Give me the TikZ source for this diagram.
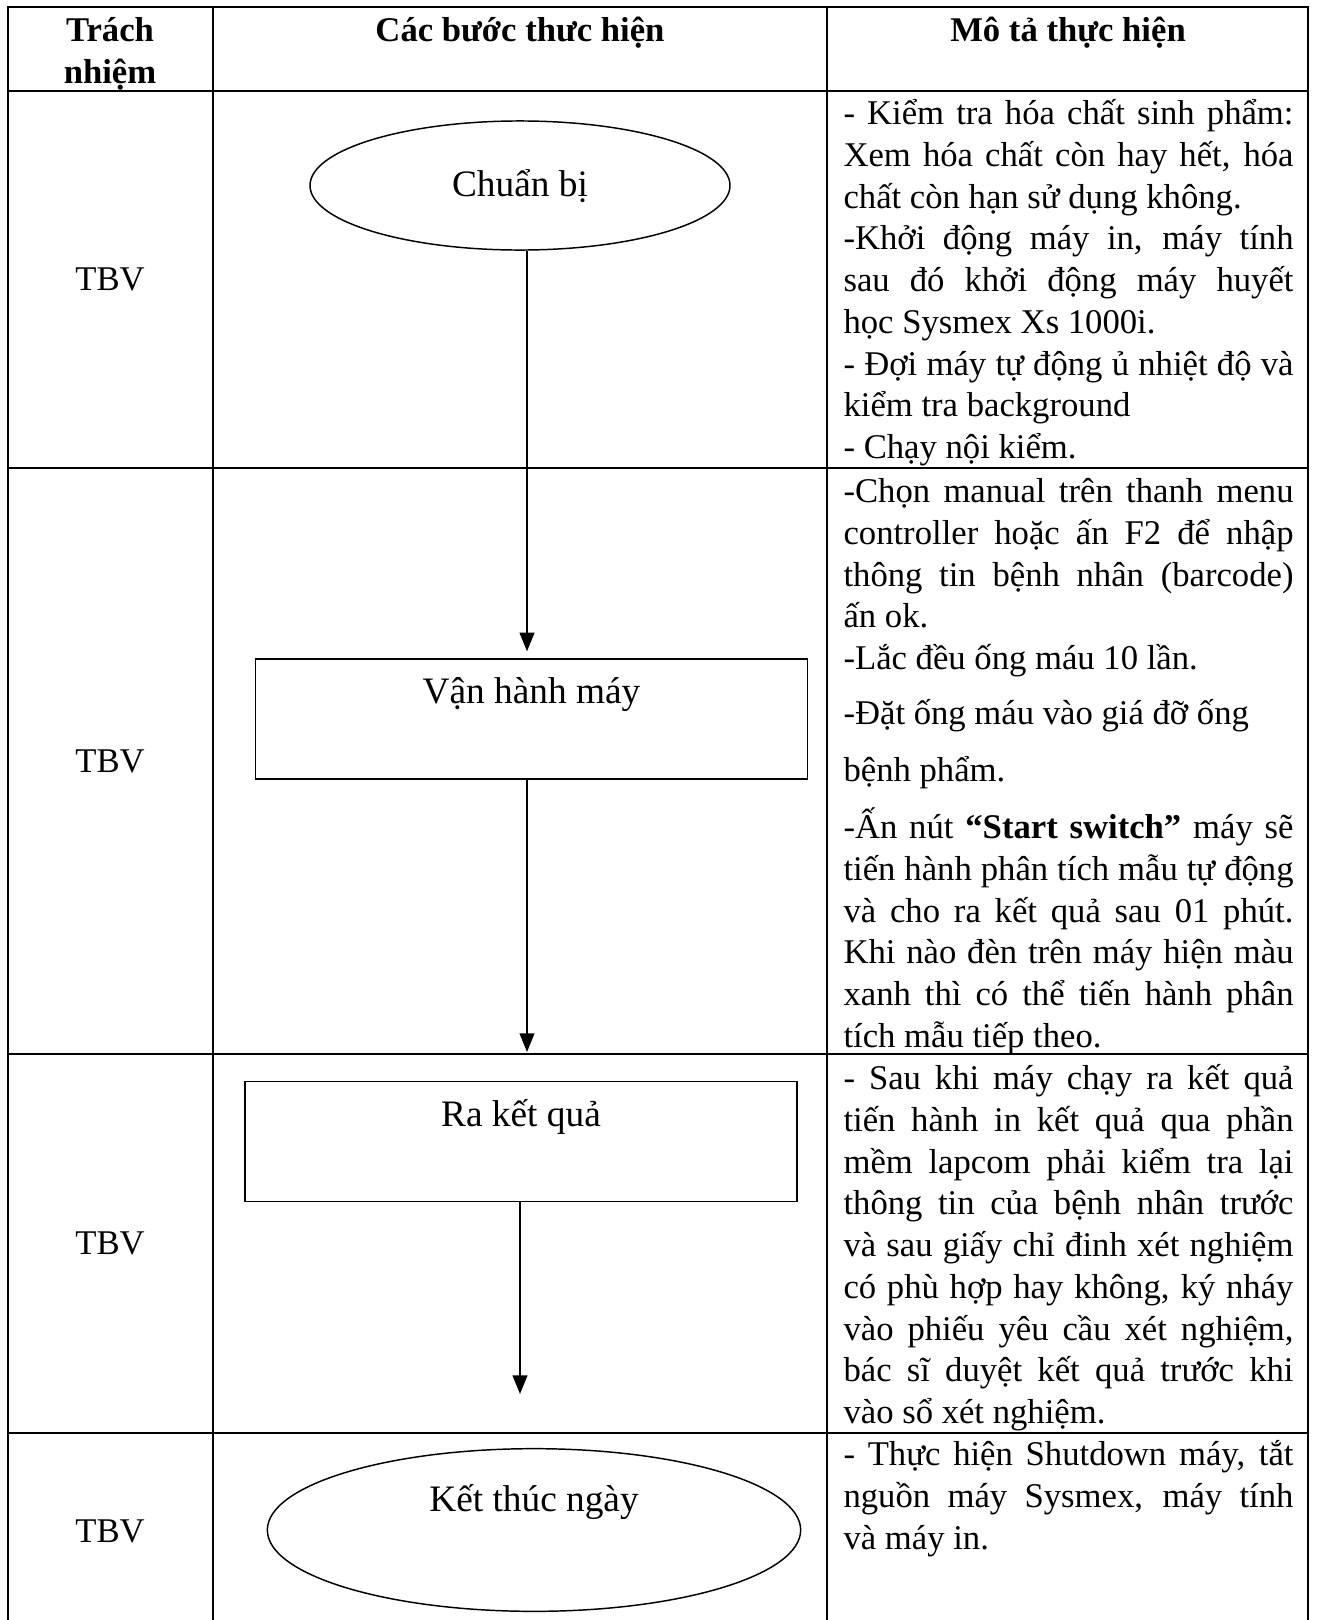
\documentclass[tikz,border=0pt]{standalone}
\usepackage{fontspec}
\setmainfont{Liberation Serif}
\usetikzlibrary{shapes.geometric, arrows.meta}

\begin{document}
\begin{tikzpicture}[x=0.375pt, y=-0.375pt,
    >={Triangle[width=5.5pt, length=7pt]},
    grid/.style={line width=0.85pt, line cap=rect},
    terminal/.style={ellipse, draw, line width=0.55pt, inner sep=0pt, text height=10pt,
      font=\fontsize{14pt}{16.8pt}\selectfont},
    process/.style={rectangle, draw, line width=0.55pt, minimum width=207pt, minimum height=45pt,
      inner sep=0pt, text height=10pt, font=\fontsize{14pt}{16.8pt}\selectfont},
    cell/.style={anchor=north west, inner sep=0pt, text width=168.75pt, align=justify,
      font=\fontsize{13pt}{15.66pt}\selectfont,
      execute at begin node={\setlength{\parindent}{0pt}\rule{0pt}{14pt}}},
    resp/.style={anchor=base, inner sep=0pt, font=\fontsize{13pt}{15.66pt}\selectfont},
    head/.style={resp, font=\fontsize{13pt}{15.66pt}\selectfont\bfseries},
    arr/.style={->, line width=0.75pt}]
   \useasboundingbox (0,0) rectangle (1318,1620);

   % khung bảng
   \draw[grid] (8,7) -- (1308,7);
   \draw[grid] (8,91) -- (1308,91);
   \foreach \y in {468,1054,1433} \draw[grid] (8,\y) -- (1308,\y);
   \foreach \x in {8,213,827,1308} \draw[grid] (\x,7) -- (\x,1620);

   % tiêu đề
   \node[cell, anchor=north, align=center, text width=67.5pt,
     font=\fontsize{13pt}{15.66pt}\selectfont\bfseries] (trach) at (110,3.7) {Trách\\nhiệm};
   \node[head] (buoc) at (520,41) {Các bước thưc hiện};
   \node[head] (mota) at (1068,41) {Mô tả thực hiện};

   % trách nhiệm
   \foreach \y [count=\i] in {290.5,772,1254.5,1542}
     \node[resp] (tbv\i) at (110,\y) {TBV};

   % các bước
   \node[terminal, minimum width=157.5pt, minimum height=48.4pt, text depth=2.1pt] (chuan) at (520,185.5) {Chuẩn bị};
   \node[process, text depth=22pt] (vanhanh) at (531.5,719) {Vận hành máy};
   \node[process, text depth=20.9pt] (ketqua) at (521,1141.5) {Ra kết quả};
   \node[terminal, minimum width=200pt, minimum height=61pt, text depth=24.25pt] (ketthuc) at (534,1530) {Kết thúc ngày};

   \coordinate (d2) at (527,1052);
   \coordinate (d3) at (520,1394);
   \draw[arr, shorten >=2.6pt] (chuan.south -| d2) -- (vanhanh.north -| d2);
   \draw[arr] (vanhanh.south -| d2) -- (d2);
   \draw[arr] (ketqua.south -| d3) -- (d3);

   % mô tả
   \node[cell] (mota1) at (843,86.7) {- Kiểm tra hóa chất sinh phẩm:\linebreak
     Xem hóa chất còn hay hết, hóa\linebreak chất còn hạn sử dụng không.\par
     -Khởi động máy in, máy tính\linebreak sau đó khởi động máy huyết\linebreak
     học Sysmex Xs 1000i.\par
     - Đợi máy tự động ủ nhiệt độ và\linebreak kiểm tra background\par
     - Chạy nội kiểm.};
   \node[cell] (mota2) at (843,464.7) {-Chọn manual trên thanh menu\linebreak
     controller hoặc ấn F2 để nhập\linebreak thông tin bệnh nhân (barcode)\linebreak ấn ok.\par
     -Lắc đều ống máu 10 lần.\par\vspace{5pt}
     -Đặt ống máu vào giá đỡ ống\par\vspace{5.7pt}
     bệnh phẩm.\par\vspace{5.7pt}
     -Ấn nút \textbf{“Start switch”} máy sẽ\linebreak tiến hành phân tích mẫu tự động\linebreak
     và cho ra kết quả sau 01 phút.\linebreak Khi nào đèn trên máy hiện màu\linebreak
     xanh thì có thể tiến hành phân\linebreak tích mẫu tiếp theo.};
   \node[cell] (mota3) at (843,1051.7) {- Sau khi máy chạy ra kết quả\linebreak
     tiến hành in kết quả qua phần\linebreak mềm lapcom phải kiểm tra lại\linebreak
     thông tin của bệnh nhân trước\linebreak và sau giấy chỉ đinh xét nghiệm\linebreak
     có phù hợp hay không, ký nháy\linebreak vào phiếu yêu cầu xét nghiệm,\linebreak
     bác sĩ duyệt kết quả trước khi\linebreak vào sổ xét nghiệm.};
   \node[cell] (mota4) at (843,1427.7) {- Thực hiện Shutdown máy, tắt\linebreak
     nguồn máy Sysmex, máy tính\linebreak và máy in.};
\end{tikzpicture}
\end{document}
